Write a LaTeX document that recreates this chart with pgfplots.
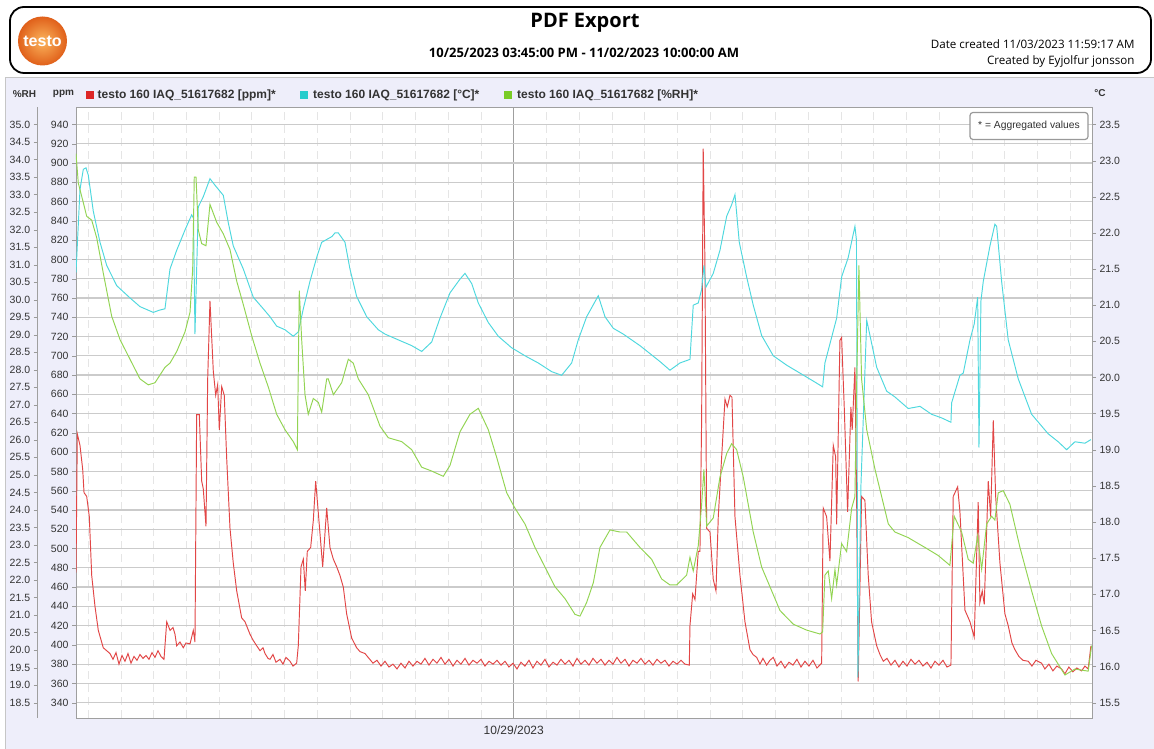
\documentclass[border=0pt]{standalone}
\usepackage{pgfplots}
\usepackage{pgfplotstable}
\pgfplotsset{compat=1.18}
\usepackage{fontspec}
\setmainfont{Liberation Sans}
\newfontfamily\hdr{Open Sans}
\definecolor{panelbg}{HTML}{EEEEFA}
\definecolor{ppmred}{HTML}{E24646}
\definecolor{tcyan}{HTML}{4ED8DE}
\definecolor{rhgreen}{HTML}{92D452}
\definecolor{sqred}{HTML}{DD2626}
\definecolor{sqcyan}{HTML}{26CCCC}
\definecolor{sqgreen}{HTML}{7ACC26}
\definecolor{gridgray}{HTML}{CBCBCB}
\definecolor{txtgray}{HTML}{333333}
\definecolor{logoin}{HTML}{FBB45C}
\definecolor{logoout}{HTML}{E0601A}

\pgfplotstableread{
h v
15.75 475
15.99 619
16.48 607
16.98 582
17.22 558
17.71 554
18.19 533
18.63 472
19.23 440
19.84 415
20.75 397
21.98 391
22.53 385
23.08 392
23.63 380
24.18 389
24.73 383
25.28 391
25.83 381
26.38 388
26.93 384
27.48 390
28.03 386
28.58 389
29.13 385
29.68 392
30.23 387
30.78 394
31.33 388
31.88 385
32.38 424
33.00 415
33.53 418
33.90 411
34.21 399
34.81 403
35.42 397
35.91 402
36.65 401
37.25 415
37.56 403
37.87 639
38.35 639
38.79 570
39.08 562
39.58 523
39.89 676
40.31 757
40.92 684
41.36 659
41.72 670
42.02 623
42.46 668
42.93 659
43.37 594
43.98 521
44.58 485
45.21 456
46.12 428
46.73 424
47.65 411
48.20 405
48.88 399
49.48 394
50.03 397
50.40 391
50.95 386
51.31 385
51.86 390
52.41 382
53.14 385
53.69 380
54.24 387
54.98 383
55.53 378
56.20 381
56.50 399
57.00 481
57.42 489
57.78 456
58.15 497
58.77 501
59.25 529
59.69 570
60.17 537
60.97 481
61.71 542
62.31 501
62.92 489
63.54 481
64.14 472
64.75 460
65.37 432
66.29 407
67.20 397
67.81 393
68.73 391
69.46 386
70.19 381
70.92 384
71.66 378
72.39 383
73.12 377
73.86 380
74.59 375
75.32 381
76.06 376
76.79 383
77.52 378
78.26 383
78.99 380
79.72 386
80.46 379
81.19 385
81.92 381
82.66 387
83.39 380
84.12 385
84.86 378
85.59 384
86.32 380
87.06 386
87.79 379
88.52 384
89.26 381
89.99 385
90.72 378
91.46 383
92.19 380
92.92 384
93.66 379
94.39 383
95.12 377
95.86 381
96.59 375
97.32 382
98.05 378
98.79 384
99.52 376
100.25 383
100.99 379
101.72 385
102.45 377
103.19 382
103.92 379
104.65 385
105.39 380
106.12 384
106.85 378
107.59 386
108.32 380
109.05 384
109.79 379
110.52 386
111.25 381
111.99 385
112.72 379
113.45 384
114.19 380
114.92 387
115.65 381
116.39 385
117.12 378
117.85 384
118.59 381
119.32 386
120.05 380
120.79 384
121.52 379
122.25 385
122.99 381
123.72 384
124.45 378
125.19 383
125.92 380
126.65 384
127.39 380
128.18 379
128.30 420
128.80 453
129.22 447
129.82 497
130.13 497
130.44 635
130.73 915
131.04 798
131.36 521
131.97 517
132.57 468
133.07 456
133.49 533
134.11 595
134.72 655
135.14 647
135.64 659
136.00 657
136.55 533
137.47 472
138.38 424
139.30 395
139.85 390
140.53 387
141.13 380
141.68 386
142.36 379
142.96 384
143.57 387
144.25 378
144.98 383
145.71 376
146.45 382
147.18 379
147.91 385
148.65 377
149.38 383
150.11 378
150.85 384
151.58 376
152.44 381
152.73 542
153.35 533
153.96 487
154.57 607
155.01 595
155.19 525
155.79 716
156.10 719
156.58 647
157.20 538
157.80 647
158.04 623
158.54 688
158.85 554
159.14 362
159.76 554
160.37 550
160.97 473
161.59 424
162.53 399
163.13 390
163.74 383
164.42 386
165.15 379
165.88 384
166.61 377
167.35 383
168.08 378
168.81 385
169.55 380
170.28 384
171.01 378
171.75 382
172.48 376
173.21 383
173.95 379
174.68 384
175.41 377
176.14 379
176.56 554
177.37 564
177.79 538
178.71 436
179.63 424
180.41 408
181.14 548
181.45 444
181.88 456
182.25 442
182.98 570
183.42 533
183.90 633
184.34 554
185.12 485
186.04 432
186.64 420
187.32 402
187.87 395
188.60 388
189.34 384
190.31 383
190.99 378
191.72 384
192.76 381
193.36 375
194.10 380
194.83 373
195.56 378
196.42 375
197.03 370
197.76 377
198.50 372
199.23 376
200.09 373
200.70 378
201.30 375
201.80 399
}\ppmdata

\pgfplotstableread{
h v
15.75 21.45
16.10 22.00
16.48 22.60
17.09 22.88
17.58 22.90
18.00 22.80
18.92 22.30
20.15 21.87
21.38 21.55
23.21 21.27
25.65 21.10
27.48 20.98
29.92 20.90
31.00 20.93
32.06 20.95
32.98 21.50
34.21 21.76
35.73 22.04
36.96 22.25
37.29 22.20
37.56 20.60
38.17 22.36
39.08 22.50
40.31 22.75
41.23 22.66
42.75 22.52
43.67 22.14
44.58 21.82
46.42 21.50
48.25 21.11
50.08 20.95
51.31 20.84
52.54 20.71
54.06 20.66
55.58 20.57
56.50 20.63
57.42 20.95
58.64 21.33
59.87 21.66
60.79 21.87
62.68 21.95
63.22 22.00
63.83 22.00
65.06 21.87
65.97 21.50
67.20 21.12
69.04 20.84
71.16 20.66
72.39 20.60
74.83 20.52
77.29 20.44
79.12 20.36
80.95 20.49
82.47 20.82
84.31 21.17
86.14 21.36
87.06 21.44
88.28 21.30
89.50 21.03
91.33 20.76
93.16 20.57
95.62 20.41
98.05 20.30
100.49 20.20
102.95 20.08
104.78 20.03
106.61 20.20
107.82 20.52
109.36 20.84
111.49 21.13
112.72 20.84
114.24 20.68
116.07 20.60
119.13 20.44
122.80 20.22
124.63 20.10
126.46 20.20
128.30 20.25
128.90 21.00
129.82 21.03
130.44 21.22
130.86 21.55
131.23 21.25
132.57 21.44
133.80 21.76
135.03 22.23
135.94 22.39
136.55 22.53
137.34 21.87
138.69 21.39
139.90 21.00
141.44 20.58
143.57 20.30
146.02 20.17
148.46 20.06
150.90 19.95
152.62 19.87
153.04 20.20
155.19 20.82
156.10 21.39
157.31 21.66
158.54 22.09
158.82 21.90
159.09 15.85
159.64 18.50
160.70 20.79
161.30 20.58
162.53 20.14
164.36 19.81
165.87 19.73
168.31 19.57
170.46 19.60
172.60 19.49
174.44 19.44
176.14 19.38
176.27 19.65
177.79 20.03
178.40 20.06
179.63 20.52
180.41 20.74
181.04 21.11
181.28 19.03
181.64 21.06
182.07 21.33
183.29 21.82
184.20 22.12
184.52 22.09
185.43 21.33
186.64 20.52
188.48 19.98
190.93 19.49
193.97 19.22
195.80 19.11
197.35 19.00
198.87 19.11
200.70 19.09
201.80 19.14
}\tempdata

\pgfplotstableread{
h v
15.75 34.17
16.17 33.33
17.09 32.77
17.71 32.38
18.63 32.27
19.54 31.77
20.75 30.76
22.29 29.53
23.82 28.86
25.65 28.30
27.48 27.74
29.00 27.57
30.23 27.63
32.06 28.07
32.98 28.19
34.21 28.52
35.73 29.08
36.65 29.64
37.14 30.87
37.43 33.50
37.75 33.50
38.17 31.99
38.79 31.60
39.58 31.54
40.31 32.72
41.54 32.21
42.75 31.88
43.98 31.43
45.21 30.53
46.42 29.86
47.96 28.97
49.48 28.19
51.00 27.51
52.54 26.73
54.06 26.29
55.58 25.95
56.32 25.72
56.68 30.26
57.12 28.86
57.73 27.29
58.33 26.73
59.25 27.18
60.17 27.07
60.79 26.79
61.71 27.74
62.00 27.74
62.93 27.29
64.45 27.63
65.67 28.30
66.58 28.19
67.50 27.74
69.33 27.29
71.48 26.39
73.00 26.06
75.45 25.95
77.29 25.72
79.12 25.22
80.95 25.11
83.08 24.96
84.31 25.27
86.14 26.23
87.97 26.73
89.50 26.90
91.33 26.29
92.87 25.50
94.70 24.49
96.22 24.05
98.05 23.60
99.89 22.93
101.72 22.37
103.55 21.81
105.39 21.47
107.22 21.02
108.14 20.97
109.36 21.36
110.58 21.92
111.80 22.93
113.64 23.43
115.47 23.37
116.70 23.37
119.13 22.93
121.28 22.59
123.11 22.03
124.63 21.86
125.86 21.86
127.69 22.14
128.30 22.65
128.90 22.26
129.82 22.98
130.44 24.16
130.86 25.16
131.36 23.54
132.57 23.77
133.80 24.94
135.03 25.61
135.94 25.89
136.86 25.72
138.07 24.94
139.90 23.37
141.44 22.37
142.96 21.81
144.80 21.13
147.24 20.74
149.70 20.57
152.13 20.46
152.62 20.52
153.04 22.14
153.65 22.26
154.27 21.47
154.88 22.30
155.19 21.86
156.10 23.04
157.02 22.81
157.94 24.05
158.54 24.38
158.85 27.51
159.27 30.98
159.76 27.74
160.70 26.29
162.22 25.16
164.66 23.60
165.87 23.37
168.31 23.21
171.37 22.93
173.81 22.70
175.95 22.42
176.74 23.82
178.10 23.37
179.31 22.59
180.23 22.48
181.04 23.26
181.77 22.31
182.69 23.60
183.60 23.82
184.20 23.71
184.81 24.49
185.73 24.55
186.95 24.16
188.79 22.93
190.93 21.69
192.76 20.69
194.60 19.90
197.04 19.29
198.87 19.46
201.30 19.40
201.93 20.13
}\rhdata

\pgfplotsset{
  base/.style={scale only axis, at={(76pt,31pt)}, anchor=south west,
    width=1016pt, height=611pt, xmin=15.75, xmax=202},
  tlab/.style={font=\fontsize{10.5}{12}\selectfont, text=txtgray},
}

\begin{document}
\begin{tikzpicture}
\useasboundingbox (0pt,0pt) rectangle (1154pt,749pt);
\fill[white] (0pt,0pt) rectangle (1154pt,749pt);
% panel
\fill[panelbg] (5pt,0pt) rectangle (1154pt,672pt);
\draw[gray!45, line width=0.8pt] (5.5pt,0pt) -- (5.5pt,671.5pt) -- (1154pt,671.5pt);
% header
\draw[line width=1.8pt, rounded corners=14pt] (10pt,676pt) rectangle (1151pt,742pt);
\shade[inner color=logoin, outer color=logoout] (42.5pt,708pt) circle (24.5pt);
\node[white, font=\bfseries\fontsize{16}{18}\selectfont] at (42.5pt,708pt) {testo};
\node[font=\hdr\bfseries\fontsize{20}{24}\selectfont] at (585pt,726pt) {PDF Export};
\node[font=\hdr\bfseries\fontsize{13}{15}\selectfont] at (584pt,696pt) {10/25/2023 03:45:00 PM - 11/02/2023 10:00:00 AM};
\node[anchor=east, font=\hdr\fontsize{11.6}{13}\selectfont] at (1138pt,705pt) {Date created 11/03/2023 11:59:17 AM};
\node[anchor=east, font=\hdr\fontsize{11.6}{13}\selectfont] at (1138pt,688pt) {Created by Eyjolfur jonsson};
% legend row
\node[font=\bfseries\fontsize{10}{12}\selectfont, text=txtgray] at (24.5pt,655pt) {\%RH};
\node[font=\bfseries\fontsize{10}{12}\selectfont, text=txtgray] at (63.5pt,655pt) {ppm};
\node[font=\bfseries\fontsize{10}{12}\selectfont, text=txtgray] at (1100pt,656pt) {°C};
\fill[sqred] (85.5pt,650pt) rectangle (93.5pt,658pt);
\node[anchor=west, inner sep=0pt, font=\bfseries\fontsize{12}{14}\selectfont, text=txtgray] at (97.5pt,654pt) {testo 160 IAQ\_51617682 [ppm]*};
\fill[sqcyan] (300pt,650pt) rectangle (308pt,658pt);
\node[anchor=west, inner sep=0pt, font=\bfseries\fontsize{12}{14}\selectfont, text=txtgray] at (313pt,654pt) {testo 160 IAQ\_51617682 [°C]*};
\fill[sqgreen] (504pt,650pt) rectangle (512pt,658pt);
\node[anchor=west, inner sep=0pt, font=\bfseries\fontsize{12}{14}\selectfont, text=txtgray] at (517pt,654pt) {testo 160 IAQ\_51617682 [\%RH]*};

% ppm axis with grid
\begin{axis}[base, ymin=324.12, ymax=958.16,
  axis background/.style={fill=white},
  ytick={340,360,...,940},
  /pgf/number format/assume math mode=true,
  yticklabel style={tlab, /pgf/number format/fixed, /pgf/number format/precision=0},
  xtick={96}, xticklabels={10/29/2023},
  minor xtick={18,24,30,36,42,48,54,60,66,72,78,84,90,102,108,114,120,126,132,138,144,150,156,162,168,174,180,186,192,198},
  xmajorgrids, xminorgrids, ymajorgrids,
  major y grid style={draw=gridgray, line width=1.2pt},
  major x grid style={draw=gray!75, line width=0.9pt},
  minor x grid style={draw=black!10, line width=0.9pt, dash pattern=on 8pt off 5pt},
  ytick pos=left, tick align=outside, major tick length=4pt, minor tick length=0pt,
  xtick style={draw=none},
  ytick style={draw=gray!80},
  axis line style={draw=gray!75, line width=0.9pt},
  xticklabel style={font=\fontsize{12}{14}\selectfont, text=txtgray},
  clip=true]
\addplot[ppmred, line width=0.95pt] table[x=h, y=v] {\ppmdata};
\end{axis}
% degC axis
\begin{axis}[base, ymin=15.288, ymax=23.742,
  hide x axis, axis y line*=right,
  ytick={15.5,16,...,23.5},
  /pgf/number format/assume math mode=true,
  yticklabel style={tlab, /pgf/number format/fixed, /pgf/number format/fixed zerofill, /pgf/number format/precision=1},
  tick align=outside, major tick length=4pt,
  ytick style={draw=gray!80},
  axis line style={draw=gray!75, line width=0.9pt}]
\addplot[tcyan, line width=0.95pt] table[x=h, y=v] {\tempdata};
\end{axis}
% RH data and its scale, drawn 38pt left of the plot
\begin{axis}[base, ymin=18.063, ymax=35.499,
  hide x axis, axis y line*=left,
  y axis line style={xshift=-38.3pt, draw=gray!75, line width=0.9pt},
  ytick={18.5,19,...,35},
  /pgf/number format/assume math mode=true,
  yticklabel style={tlab, xshift=-38.3pt, /pgf/number format/fixed, /pgf/number format/fixed zerofill, /pgf/number format/precision=1},
  tick align=outside, major tick length=4pt,
  ytick style={draw=gray!80, xshift=-38.3pt}]
\addplot[rhgreen, line width=0.95pt] table[x=h, y=v] {\rhdata};
\end{axis}
% aggregated values box
\node[draw=gray!80, line width=1.2pt, fill=white, rounded corners=3pt, minimum width=118pt, minimum height=27pt,
  font=\fontsize{10.3}{12}\selectfont, text=txtgray] at (1029pt,623pt) {* = Aggregated values};
\end{tikzpicture}
\end{document}
